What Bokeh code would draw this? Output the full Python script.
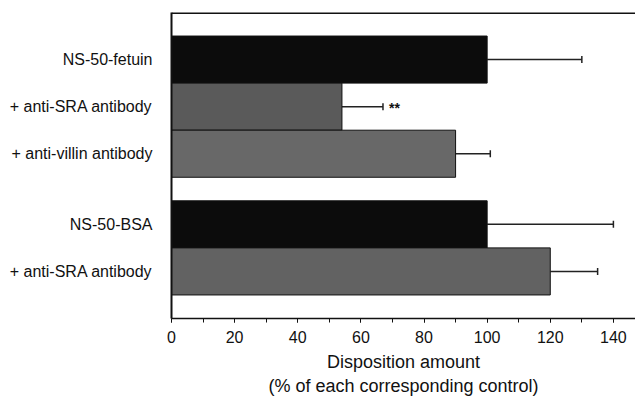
from bokeh.plotting import figure
from bokeh.models import (Range1d, FixedTicker, SingleIntervalTicker, ColumnDataSource,
                          Whisker, TeeHead, Span)
from bokeh.core.properties import value
from bokeh.embed import file_html
from bokeh.resources import INLINE

# ---- data ----
labels = ["NS-50-fetuin", "+ anti-SRA antibody", "+ anti-villin antibody",
          "NS-50-BSA", "+ anti-SRA antibody"]
values = [100, 54, 90, 100, 120]
errors = [30, 13, 11, 40, 15]
signif = ["", "**", "", "", ""]
group_sizes = [3, 2]

# ---- layout of bars (groups separated by half a bar) ----
ypos = []
cur = 0.5
for gi, n in enumerate(group_sizes):
    if gi > 0:
        cur += 0.5
    for k in range(n):
        ypos.append(cur + 0.5)
        cur += 1.0
y_end = cur + 0.5

gray_shades = ["#5a5a5a", "#686868"]
colors = []
for gi, n in enumerate(group_sizes):
    for k in range(n):
        if k == 0:
            colors.append("#0c0c0c")
        elif gi == 0:
            colors.append(gray_shades[k - 1])
        else:
            colors.append("#626262")

src = ColumnDataSource(dict(
    y=ypos, v=values, err=errors,
    up=[a + b for a, b in zip(values, errors)],
    sig=signif, color=colors))

FONT = "Liberation Sans"

p = figure(width=635, height=398, output_backend="svg", toolbar_location=None,
           x_range=Range1d(0, 147), y_range=Range1d(y_end, 0),
           min_border_left=171, min_border_right=0, min_border_top=12,
           min_border_bottom=76)
p.outline_line_color = None
p.grid.visible = False
p.background_fill_color = "white"

p.hbar(y="y", left=0, right="v", height=1.0, fill_color="color",
       line_color="#111111", line_width=1, source=src)

wh = Whisker(source=src, base="y", lower="v", upper="up", dimension="width",
             line_color="#222222", line_width=1.5,
             upper_head=TeeHead(size=7, line_color="#222222", line_width=1.5),
             lower_head=None)
p.add_layout(wh)

p.text(x="up", y="y", text="sig", x_offset=6, y_offset=1,
       text_font=value(FONT), text_font_size="14px", text_font_style="bold",
       text_baseline="middle", text_align="left", text_color="#111111", source=src)

p.add_layout(Span(location=0, dimension="width", line_color="#111111", line_width=3))

# y axis
p.yaxis.ticker = FixedTicker(ticks=ypos)
p.yaxis.major_label_overrides = {y: l for y, l in zip(ypos, labels)}
p.yaxis.major_tick_line_color = None
p.yaxis.minor_tick_line_color = None
p.yaxis.axis_line_width = 2
p.yaxis.axis_line_color = "#111111"
p.yaxis.major_label_standoff = 13
p.yaxis.major_label_text_font = FONT
p.yaxis.major_label_text_font_size = "16px"
p.yaxis.major_label_text_color = "#111111"

# x axis
p.xaxis.ticker = SingleIntervalTicker(interval=20, num_minor_ticks=2)
p.xaxis.major_tick_in = 0
p.xaxis.major_tick_out = 4
p.xaxis.minor_tick_in = 0
p.xaxis.minor_tick_out = 4
p.xaxis.axis_line_width = 1.5
p.xaxis.axis_line_color = "#111111"
p.xaxis.major_tick_line_color = "#111111"
p.xaxis.minor_tick_line_color = "#111111"
p.xaxis.major_label_standoff = 8
p.xaxis.major_label_text_font = FONT
p.xaxis.major_label_text_font_size = "16px"
p.xaxis.major_label_text_color = "#111111"
p.xaxis.axis_label = "Disposition amount\n(% of each corresponding control)"
p.xaxis.axis_label_text_font = FONT
p.xaxis.axis_label_text_font_size = "18px"
p.xaxis.axis_label_text_font_style = "normal"
p.xaxis.axis_label_text_color = "#111111"
p.xaxis.axis_label_standoff = 6

open("out.html", "w").write(file_html(p, INLINE))
